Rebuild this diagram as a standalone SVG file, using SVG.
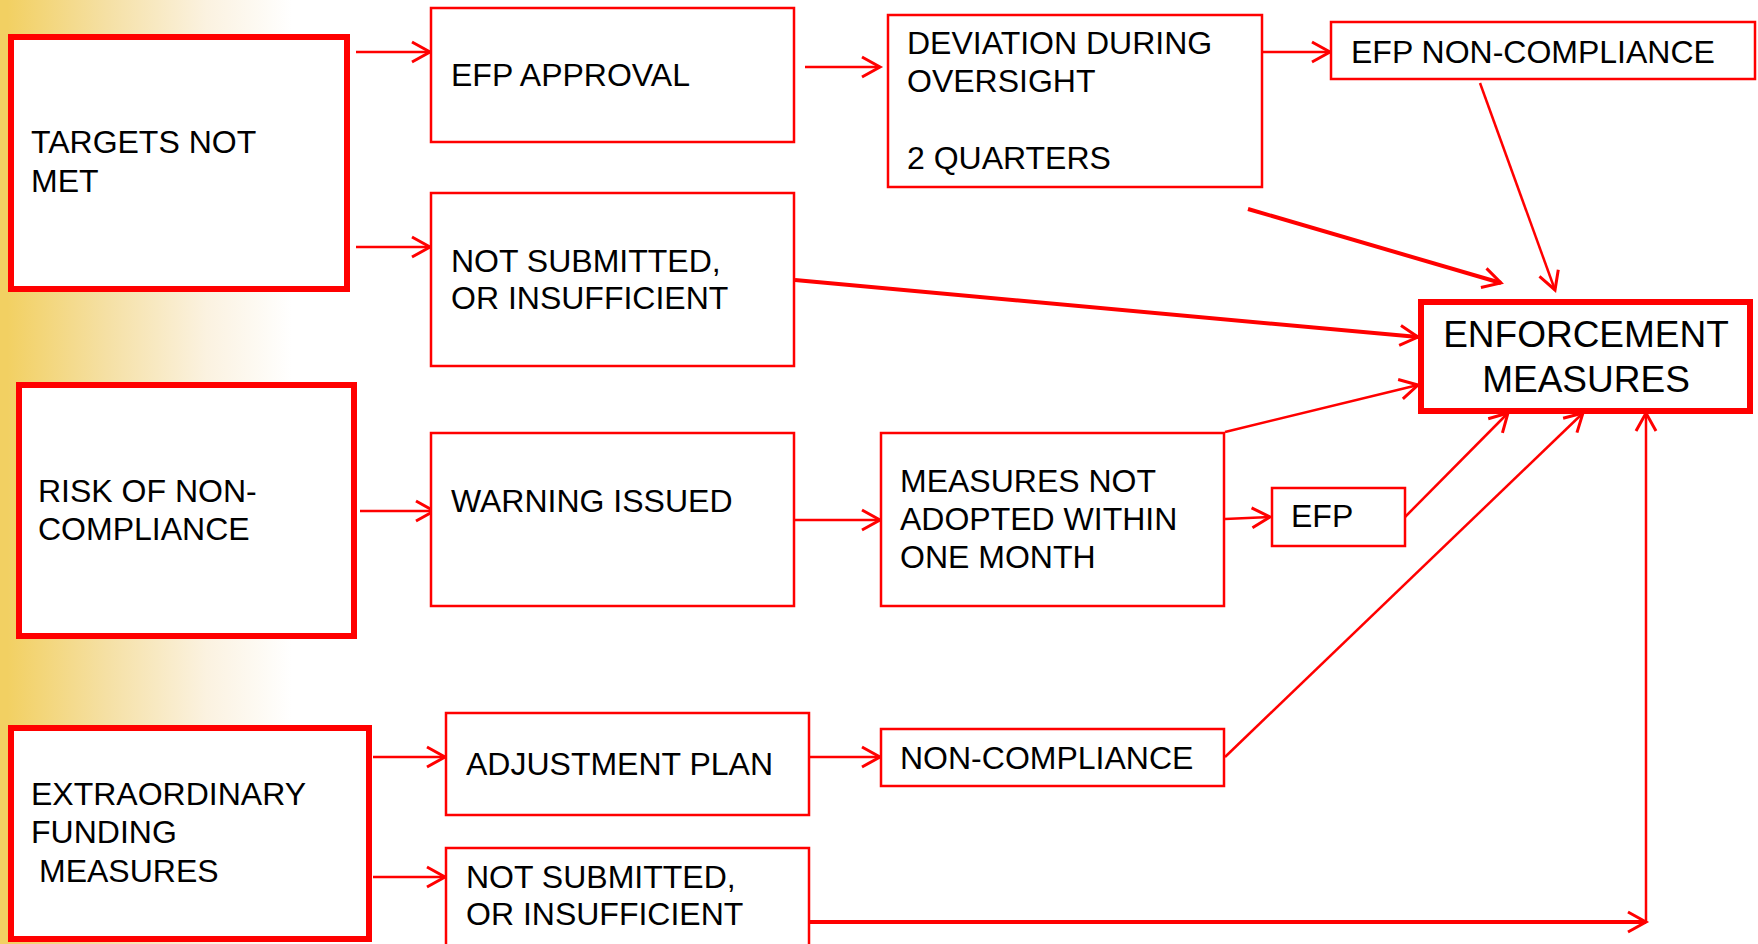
<svg xmlns="http://www.w3.org/2000/svg" width="1758" height="944" viewBox="0 0 1758 944">
<defs>
<linearGradient id="bg" x1="0" y1="0" x2="1" y2="0">
<stop offset="0" stop-color="#F2D062"/>
<stop offset="0.35" stop-color="#F5E0A4"/>
<stop offset="0.7" stop-color="#FBF2E0"/>
<stop offset="1" stop-color="#FFFFFF"/>
</linearGradient>
<marker id="ah" markerUnits="userSpaceOnUse" markerWidth="22" markerHeight="24" refX="18" refY="10" orient="auto" overflow="visible">
<path d="M0,0 L18,10 L0,20" fill="none" stroke="#FF0000" stroke-width="3"/>
</marker>
<style>
.thick{fill:#FFFFFF;stroke:#FF0000;stroke-width:6}
.thin{fill:#FFFFFF;stroke:#FF0000;stroke-width:2.5}
.t{font-family:"Liberation Sans",Arial,sans-serif;font-size:32px;fill:#000000}
.big{font-family:"Liberation Sans",Arial,sans-serif;font-size:37px;fill:#000000;text-anchor:middle}
.c{fill:none;stroke:#FF0000;stroke-width:2.5;marker-end:url(#ah)}
.cw{fill:none;stroke:#FF0000;stroke-width:4;marker-end:url(#ah)}
</style>
</defs>
<rect x="0" y="0" width="1758" height="944" fill="#FFFFFF"/>
<rect x="7" y="0" width="285" height="944" fill="url(#bg)"/>
<rect x="0" y="0" width="8" height="944" fill="#F2D062"/>

<g id="connectors">
<line class="c" x1="356" y1="52" x2="430" y2="52"/>
<line class="c" x1="356" y1="247" x2="430" y2="247"/>
<line class="c" x1="805" y1="67" x2="880" y2="67"/>
<line class="c" x1="1255" y1="52" x2="1330" y2="52"/>
<line class="c" x1="1480" y1="83" x2="1555" y2="290"/>
<line class="cw" x1="1248" y1="209" x2="1501" y2="283"/>
<line class="cw" x1="795" y1="280" x2="1418" y2="337"/>
<line class="c" x1="1225" y1="432" x2="1418" y2="385"/>
<line class="c" x1="360" y1="511" x2="434" y2="511"/>
<line class="c" x1="795" y1="520" x2="880" y2="520"/>
<line class="c" x1="1225" y1="519" x2="1270" y2="517"/>
<line class="c" x1="1405" y1="517" x2="1508" y2="413"/>
<line class="c" x1="1225" y1="757" x2="1583" y2="413"/>
<line class="c" x1="373" y1="757" x2="445" y2="757"/>
<line class="c" x1="805" y1="757" x2="880" y2="757"/>
<line class="c" x1="373" y1="877" x2="445" y2="877"/>
<line class="cw" x1="805" y1="922" x2="1646" y2="922"/>
<line class="c" x1="1646" y1="922" x2="1646" y2="413"/>
</g>

<g id="targets"><rect class="thick" x="11" y="37" width="336" height="252"/>
<text class="t" x="31" y="153">TARGETS NOT</text><text class="t" x="31" y="192">MET</text></g>

<g id="efp-approval"><rect class="thin" x="431" y="8" width="363" height="134"/>
<text class="t" x="451" y="86">EFP APPROVAL</text></g>

<g id="not-submitted-1"><rect class="thin" x="431" y="193" width="363" height="173"/>
<text class="t" x="451" y="272">NOT SUBMITTED,</text><text class="t" x="451" y="309">OR INSUFFICIENT</text></g>

<g id="deviation"><rect class="thin" x="888" y="15" width="374" height="172"/>
<text class="t" x="907" y="54">DEVIATION DURING</text><text class="t" x="907" y="92">OVERSIGHT</text><text class="t" x="907" y="169">2 QUARTERS</text></g>

<g id="efp-non-compliance"><rect class="thin" x="1331" y="22" width="424" height="57"/>
<text class="t" x="1351" y="63">EFP NON-COMPLIANCE</text></g>

<g id="enforcement"><rect class="thick" x="1421" y="302" width="329" height="109"/>
<text class="big" x="1586" y="347">ENFORCEMENT</text><text class="big" x="1586" y="392">MEASURES</text></g>

<g id="risk"><rect class="thick" x="19" y="385" width="335" height="251"/>
<text class="t" x="38" y="502">RISK OF NON-</text><text class="t" x="38" y="540">COMPLIANCE</text></g>

<g id="warning"><rect class="thin" x="431" y="433" width="363" height="173"/>
<text class="t" x="451" y="512">WARNING ISSUED</text></g>

<g id="measures-not-adopted"><rect class="thin" x="881" y="433" width="343" height="173"/>
<text class="t" x="900" y="492">MEASURES NOT</text><text class="t" x="900" y="530">ADOPTED WITHIN</text><text class="t" x="900" y="568">ONE MONTH</text></g>

<g id="efp"><rect class="thin" x="1272" y="488" width="133" height="58"/>
<text class="t" x="1291" y="527">EFP</text></g>

<g id="extraordinary"><rect class="thick" x="11" y="728" width="358" height="211"/>
<text class="t" x="31" y="805">EXTRAORDINARY</text><text class="t" x="31" y="843">FUNDING</text><text class="t" x="39" y="882">MEASURES</text></g>

<g id="adjustment-plan"><rect class="thin" x="446" y="713" width="363" height="102"/>
<text class="t" x="466" y="775">ADJUSTMENT PLAN</text></g>

<g id="non-compliance"><rect class="thin" x="881" y="729" width="343" height="57"/>
<text class="t" x="900" y="769">NON-COMPLIANCE</text></g>

<g id="not-submitted-2"><rect class="thin" x="446" y="848" width="363" height="110"/>
<text class="t" x="466" y="888">NOT SUBMITTED,</text><text class="t" x="466" y="925">OR INSUFFICIENT</text></g>
</svg>
